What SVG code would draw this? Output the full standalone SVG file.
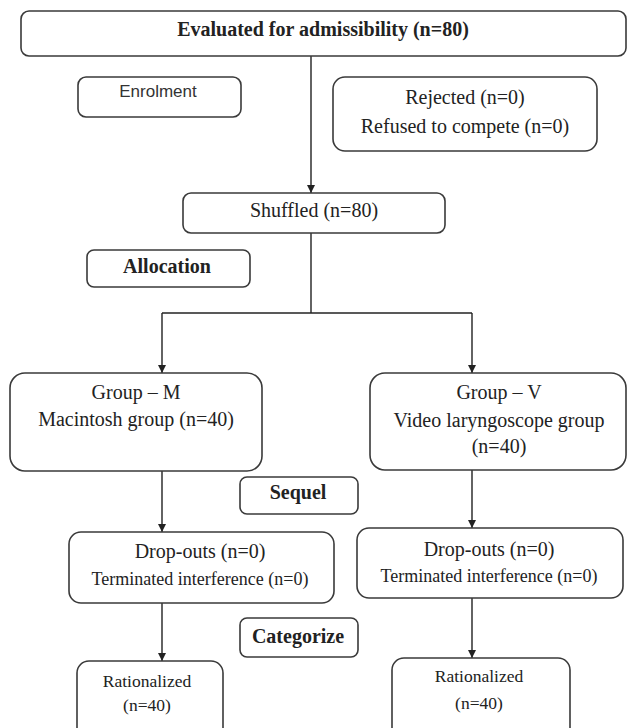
<svg xmlns="http://www.w3.org/2000/svg" width="627" height="728" viewBox="0 0 627 728">
<style>
  .box{fill:#fff;stroke:#3a3a3a;stroke-width:1.6}
  .t{font-family:"Liberation Serif","Times New Roman",serif;font-size:20px;fill:#222;text-anchor:middle}
  .b{font-weight:bold}
  .s{font-family:"Liberation Sans",Arial,sans-serif;font-size:17px;fill:#333;text-anchor:middle}
  .ln{fill:none;stroke:#222;stroke-width:1.4}
</style>
<defs>
  <marker id="ah" viewBox="0 0 10 10" refX="10" refY="5" markerWidth="10" markerHeight="8" markerUnits="userSpaceOnUse" orient="auto">
    <path d="M0,0 L10,5 L0,10 z" fill="#222"/>
  </marker>
</defs>
<rect width="627" height="728" fill="#fff"/>
<g id="connectors">
  <line class="ln" x1="311" y1="56" x2="311" y2="193" marker-end="url(#ah)"/>
  <polyline class="ln" points="311,233 311,313"/>
  <polyline class="ln" points="162,313 472,313"/>
  <line class="ln" x1="162" y1="313" x2="162" y2="373" marker-end="url(#ah)"/>
  <line class="ln" x1="472" y1="313" x2="472" y2="373" marker-end="url(#ah)"/>
  <line class="ln" x1="162" y1="471" x2="162" y2="532" marker-end="url(#ah)"/>
  <line class="ln" x1="472" y1="470" x2="472" y2="528" marker-end="url(#ah)"/>
  <line class="ln" x1="162" y1="603" x2="162" y2="661" marker-end="url(#ah)"/>
  <line class="ln" x1="472" y1="598" x2="472" y2="658" marker-end="url(#ah)"/>
</g>
<g id="evaluated">
  <rect class="box" x="21" y="11" width="605" height="45" rx="8"/>
  <text class="t b" x="323" y="36">Evaluated for admissibility (n=80)</text>
</g>
<g id="enrolment">
  <rect class="box" x="78" y="77" width="163" height="40" rx="8"/>
  <text class="s" x="158" y="97">Enrolment</text>
</g>
<g id="rejected">
  <rect class="box" x="333" y="77" width="264" height="74" rx="12"/>
  <text class="t" x="465" y="104">Rejected (n=0)</text>
  <text class="t" x="465" y="133">Refused to compete (n=0)</text>
</g>
<g id="shuffled">
  <rect class="box" x="183" y="193" width="262" height="40" rx="8"/>
  <text class="t" x="314" y="217">Shuffled (n=80)</text>
</g>
<g id="allocation">
  <rect class="box" x="87" y="250" width="163" height="37" rx="7"/>
  <text class="t b" x="167" y="273">Allocation</text>
</g>
<g id="groupM">
  <rect class="box" x="10" y="373" width="252" height="98" rx="15"/>
  <text class="t" x="136" y="399">Group – M</text>
  <text class="t" x="136" y="426">Macintosh group (n=40)</text>
</g>
<g id="groupV">
  <rect class="box" x="370" y="373" width="256" height="97" rx="15"/>
  <text class="t" x="499" y="399">Group – V</text>
  <text class="t" x="499" y="427">Video laryngoscope group</text>
  <text class="t" x="499" y="453">(n=40)</text>
</g>
<g id="sequel">
  <rect class="box" x="240" y="477" width="118" height="37" rx="7"/>
  <text class="t b" x="298" y="499">Sequel</text>
</g>
<g id="dropoutsM">
  <rect class="box" x="69" y="532" width="265" height="71" rx="12"/>
  <text class="t" x="200" y="558">Drop-outs (n=0)</text>
  <text class="t" x="200" y="585" style="font-size:18px">Terminated interference (n=0)</text>
</g>
<g id="dropoutsV">
  <rect class="box" x="357" y="528" width="266" height="70" rx="12"/>
  <text class="t" x="489" y="556">Drop-outs (n=0)</text>
  <text class="t" x="489" y="582" style="font-size:18px">Terminated interference (n=0)</text>
</g>
<g id="categorize">
  <rect class="box" x="240" y="618" width="118" height="39" rx="7"/>
  <text class="t b" x="298" y="643">Categorize</text>
</g>
<g id="rationalizedM">
  <rect class="box" x="77" y="661" width="146" height="80" rx="12"/>
  <text class="t" x="147" y="687" style="font-size:17.5px">Rationalized</text>
  <text class="t" x="147" y="711" style="font-size:17.5px">(n=40)</text>
</g>
<g id="rationalizedV">
  <rect class="box" x="392" y="658" width="178" height="83" rx="12"/>
  <text class="t" x="479" y="682" style="font-size:17.5px">Rationalized</text>
  <text class="t" x="479" y="709" style="font-size:17.5px">(n=40)</text>
</g>
</svg>
